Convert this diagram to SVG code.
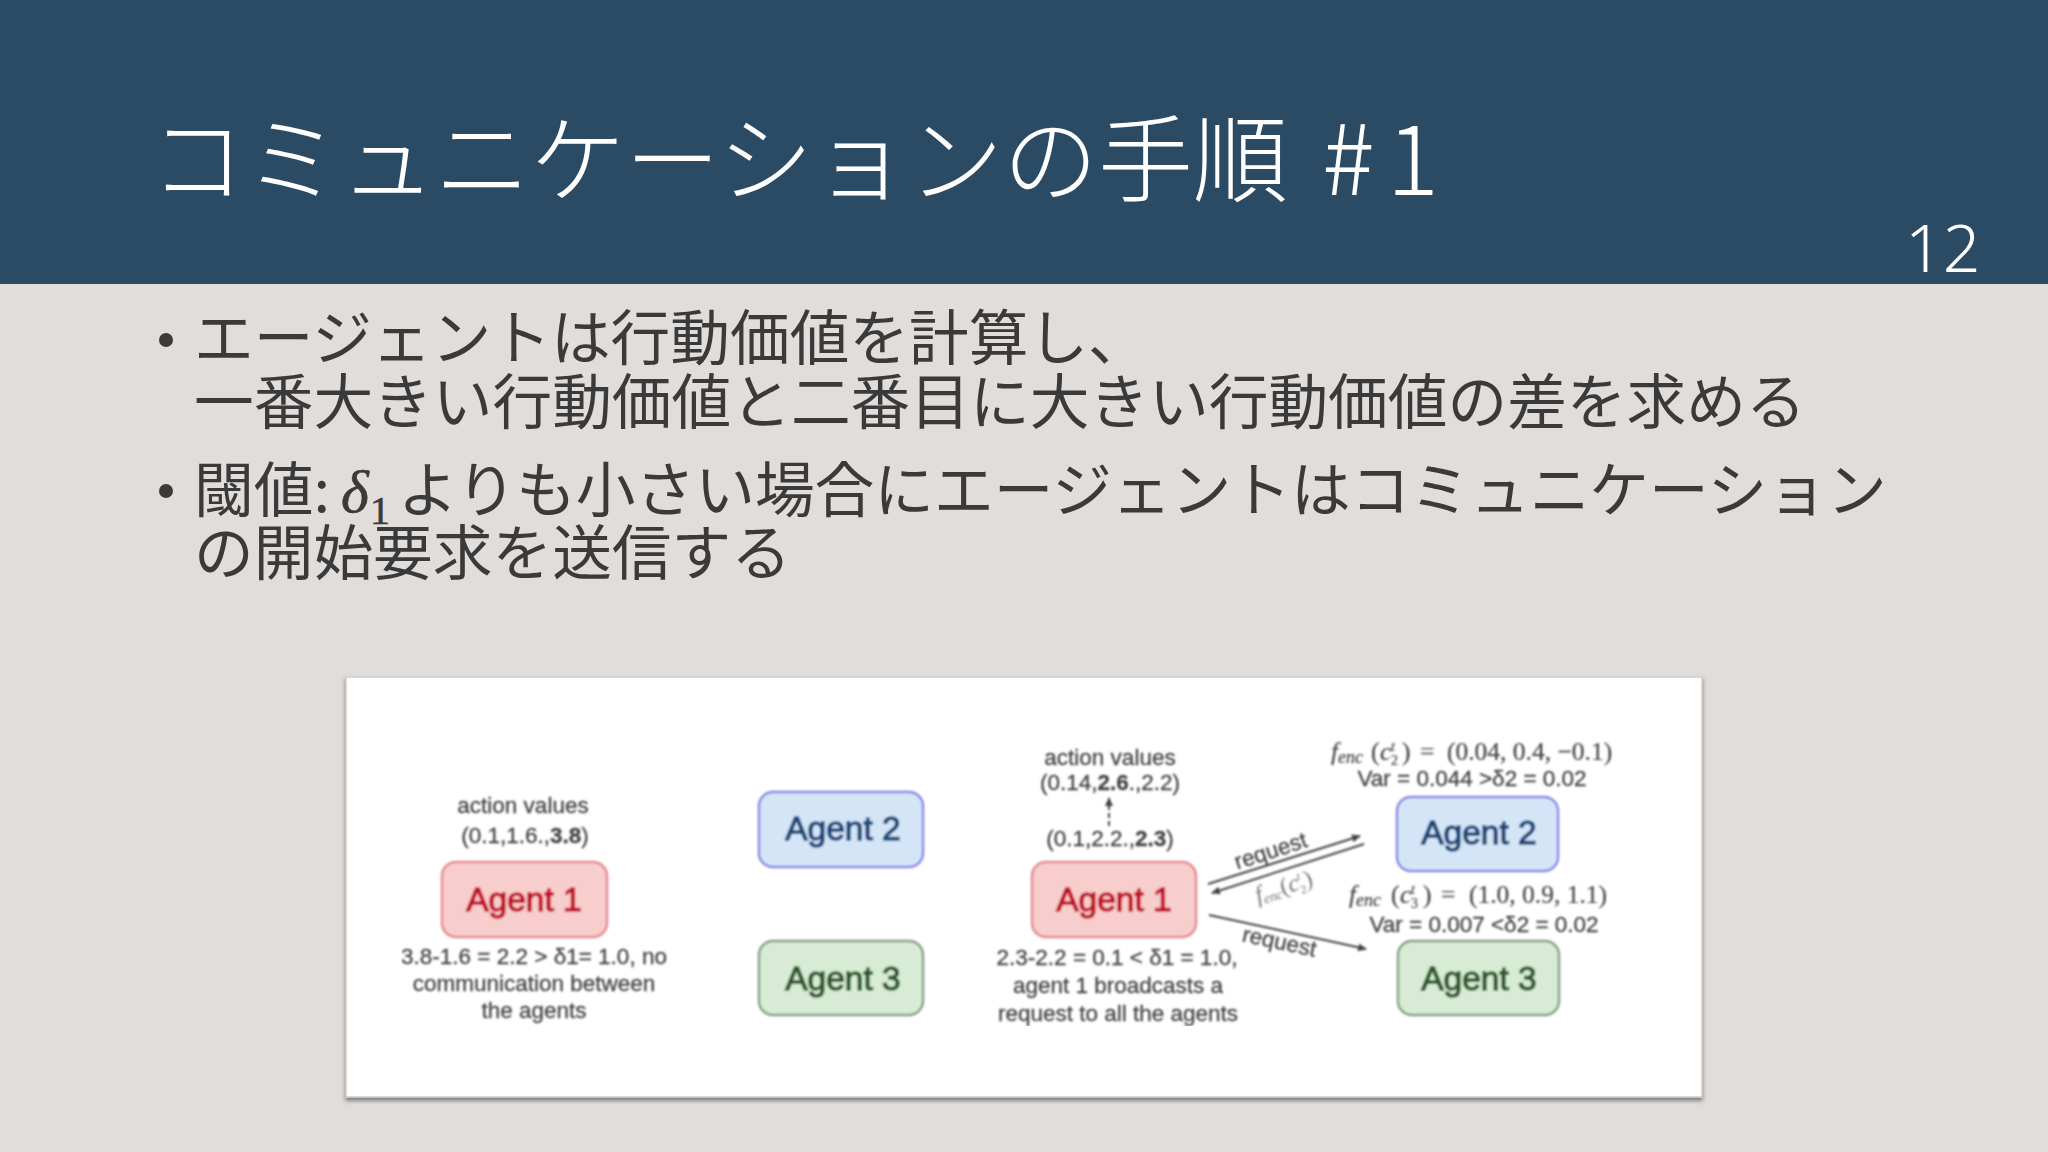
<svg xmlns="http://www.w3.org/2000/svg" width="2048" height="1152" viewBox="0 0 2048 1152">
<defs>
<style>
.jp{font-family:"Noto Sans CJK JP","Noto Sans",sans-serif;font-weight:400;fill:#3a3a3a}
.tt{font-family:"Noto Sans CJK JP","Noto Sans",sans-serif;font-weight:300;fill:#fff}
.t{font-family:"Liberation Sans",Arial,sans-serif;font-size:22.5px;fill:#444;text-anchor:middle;stroke:#444;stroke-width:.3}
.m{font-family:"Liberation Serif",serif;font-size:25.5px;fill:#444;stroke:#444;stroke-width:.2}
.i{font-style:italic}
.b{font-weight:bold}
.ag{font-family:"Liberation Sans",Arial,sans-serif;font-size:33.5px;text-anchor:middle;stroke-width:1.4}
.a1 rect{fill:#f8cecc;stroke:#e58a92;stroke-width:2.5}
.a1 text{fill:#c01028;stroke:#c01028}
.a2 rect{fill:#d5e5f8;stroke:#8888e6;stroke-width:2.5}
.a2 text{fill:#1a4a78;stroke:#1a4a78}
.a3 rect{fill:#d8ebd5;stroke:#84a084;stroke-width:2.5}
.a3 text{fill:#2d5a28;stroke:#2d5a28}
.l{stroke:#444;stroke-width:2;fill:none}
</style>
<marker id="ah" markerWidth="9" markerHeight="8" refX="8" refY="4" orient="auto" markerUnits="userSpaceOnUse"><path d="M0 0L9 4L0 8Z" fill="#444"/></marker>
<filter id="soft" x="0" y="0" width="1" height="1"><feGaussianBlur stdDeviation="0.9"/></filter>
<filter id="sh" x="-2%" y="-2%" width="104%" height="104%"><feDropShadow dx="0" dy="3" stdDeviation="2" flood-color="#555" flood-opacity=".7"/></filter>
</defs>
<rect width="2048" height="1152" fill="#e0dddb"/>
<rect width="2048" height="284" fill="#2b4a64"/>
<text x="150" y="195" class="tt" font-size="95">コミュニケーションの手順</text>
<text x="1322" y="195" class="tt" font-size="98" letter-spacing="12">#1</text>
<text x="1905" y="272" style="font-family:'Noto Sans',sans-serif;font-weight:300;fill:#fff" font-size="66">12</text>
<g font-size="59.7">
<circle cx="166" cy="340" r="7" fill="#3a3a3a"/>
<text x="194" y="360" class="jp">エージェントは行動価値を計算し、</text>
<text x="194" y="424" class="jp">一番大きい行動価値と二番目に大きい行動価値の差を求める</text>
<circle cx="166" cy="491" r="7" fill="#3a3a3a"/>
<text x="194" y="512" class="jp">閾値:</text>
<text x="341" y="512" font-family="Liberation Serif" font-style="italic" fill="#3a3a3a" stroke="#3a3a3a" stroke-width=".6">δ</text>
<text x="370" y="524" font-family="Liberation Serif" font-size="40" fill="#3a3a3a" stroke="#3a3a3a" stroke-width=".6">1</text>
<text x="398" y="512" class="jp">よりも小さい場合にエージェントはコミュニケーション</text>
<text x="194" y="575" class="jp">の開始要求を送信する</text>
</g>
<rect x="346" y="677" width="1356" height="420" fill="#fff" stroke="#cfcdcb" stroke-width="1.5" filter="url(#sh)"/>
<g filter="url(#soft)">
<g id="connectors">
<path class="l" marker-end="url(#ah)" d="M1208 884L1360 836"/>
<path class="l" marker-end="url(#ah)" d="M1364 844L1212 893"/>
<path class="l" marker-end="url(#ah)" d="M1209 915L1366 949"/>
<path class="l" marker-end="url(#ah)" stroke-dasharray="5 3" d="M1109 826V798"/>
</g>
<g id="panel-left-labels">
<text class="t" x="523" y="813">action values</text>
<text class="t" x="525" y="843">(0.1,1.6.,<tspan class="b">3.8</tspan>)</text>
<text class="t" x="534" y="964">3.8-1.6 = 2.2 &gt; δ1= 1.0, no</text>
<text class="t" x="534" y="991">communication between</text>
<text class="t" x="534" y="1018">the agents</text>
</g>
<g id="agent1-left" class="a1"><rect x="442" y="862" width="165" height="75" rx="14"/><text class="ag" x="524" y="911">Agent 1</text></g>
<g id="agent2-left" class="a2"><rect x="759" y="792" width="164" height="75" rx="14"/><text class="ag" x="843" y="840">Agent 2</text></g>
<g id="agent3-left" class="a3"><rect x="759" y="941" width="164" height="74" rx="14"/><text class="ag" x="843" y="990">Agent 3</text></g>
<g id="panel-right-labels">
<text class="t" x="1110" y="765">action values</text>
<text class="t" x="1110" y="790">(0.14,<tspan class="b">2.6</tspan>.,2.2)</text>
<text class="t" x="1110" y="846">(0.1,2.2.,<tspan class="b">2.3</tspan>)</text>
<text class="t" x="1117" y="965">2.3-2.2 = 0.1 &lt; δ1 = 1.0,</text>
<text class="t" x="1118" y="993">agent 1 broadcasts a</text>
<text class="t" x="1118" y="1021">request to all the agents</text>
<text class="t" x="1273" y="858" transform="rotate(-18 1273 858)">request</text>
<text class="t" x="1278" y="949" transform="rotate(12 1278 949)">request</text>
<text x="1258" y="903" transform="rotate(-18 1258 903)" font-family="Liberation Serif" font-size="24" fill="#777"><tspan class="i">f</tspan><tspan class="i" font-size="14" dy="3">enc</tspan><tspan dy="-3">(</tspan><tspan class="i">c</tspan><tspan font-size="12" dy="5">2</tspan><tspan dx="-6" dy="-14" font-size="12" class="i">t</tspan><tspan dx="3" dy="9">)</tspan></text>
<text class="m" y="760"><tspan class="i" x="1331">f</tspan><tspan class="i" font-size="18" dy="3">enc</tspan><tspan x="1371" dy="-3">(</tspan><tspan class="i" x="1380">c</tspan><tspan font-size="14" dy="5" x="1391">2</tspan><tspan font-size="14" class="i" x="1391" dy="-14">t</tspan><tspan x="1402" dy="9">)</tspan><tspan x="1420">=</tspan><tspan x="1447">(0.04, 0.4, −0.1)</tspan></text>
<text class="t" x="1472" y="786">Var = 0.044 &gt;δ2 = 0.02</text>
<text class="m" y="903"><tspan class="i" x="1349">f</tspan><tspan class="i" font-size="18" dy="3">enc</tspan><tspan x="1391" dy="-3">(</tspan><tspan class="i" x="1400">c</tspan><tspan font-size="14" dy="5" x="1411">3</tspan><tspan font-size="14" class="i" x="1411" dy="-14">t</tspan><tspan x="1423" dy="9">)</tspan><tspan x="1441">=</tspan><tspan x="1469">(1.0, 0.9, 1.1)</tspan></text>
<text class="t" x="1484" y="932">Var = 0.007 &lt;δ2 = 0.02</text>
</g>
<g id="agent1-right" class="a1"><rect x="1032" y="862" width="164" height="75" rx="14"/><text class="ag" x="1114" y="911">Agent 1</text></g>
<g id="agent2-right" class="a2"><rect x="1397" y="797" width="161" height="74" rx="14"/><text class="ag" x="1479" y="844">Agent 2</text></g>
<g id="agent3-right" class="a3"><rect x="1398" y="941" width="161" height="74" rx="14"/><text class="ag" x="1479" y="990">Agent 3</text></g>
</g>
</svg>
